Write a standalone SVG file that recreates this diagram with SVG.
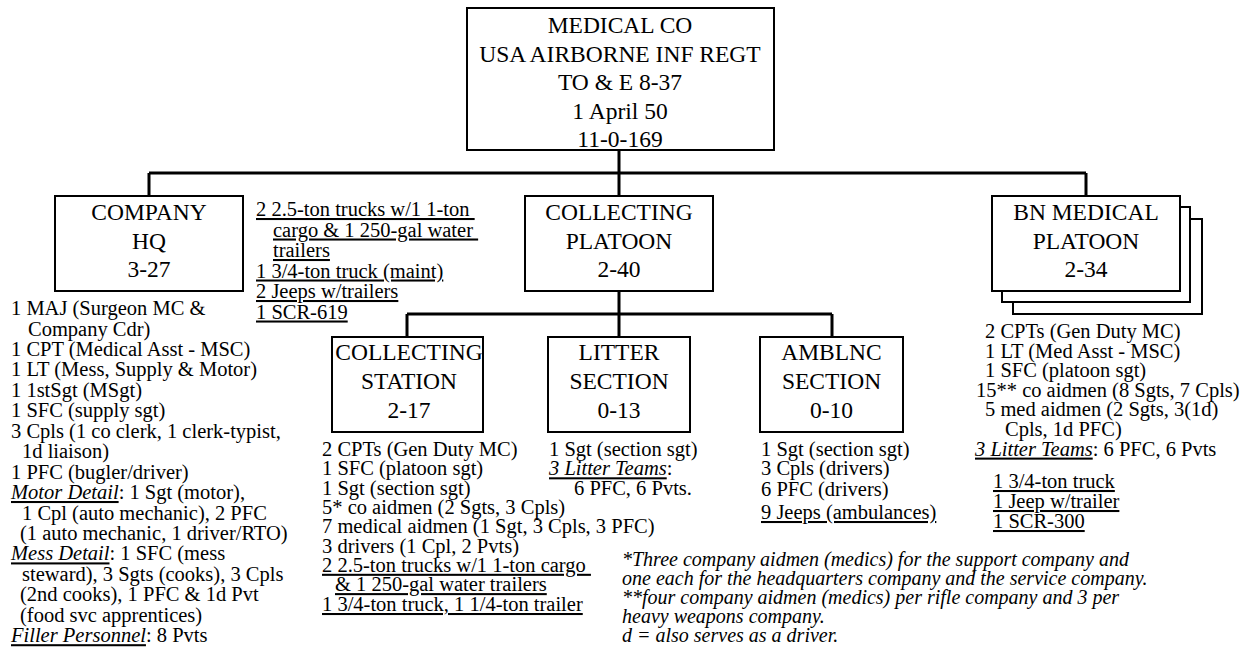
<svg xmlns="http://www.w3.org/2000/svg" width="1252" height="651" viewBox="0 0 1252 651">
<style>
.box{fill:#fff;stroke:#000;stroke-width:2}
.conn{fill:none;stroke:#000;stroke-width:3}
text{font-family:"Liberation Serif","Times New Roman",serif;fill:#000}
.bt{font-size:23.5px;text-anchor:middle}
.lt{font-size:20.5px}
.fn{font-size:20px;font-style:italic}
.u{text-decoration:underline}
.i{font-style:italic}
</style>
<rect width="1252" height="651" fill="#fff"/>
<g id="connectors">
<path class="conn" d="M619 150V196M149 173H1086M149 173V196M1086 173V196"/>
<path class="conn" d="M619 291V337M407 314H832M407 314V337M832 314V337"/>
</g>
<g id="medical-co">
<rect class="box" x="467" y="8" width="307" height="142"/>
<text class="bt"><tspan x="620" y="33">MEDICAL CO</tspan><tspan x="620" y="61.5">USA AIRBORNE INF REGT</tspan><tspan x="620" y="90">TO &amp; E 8-37</tspan><tspan x="620" y="118.5">1 April 50</tspan><tspan x="620" y="147">11-0-169</tspan></text>
</g>
<g id="company-hq">
<rect class="box" x="55" y="196" width="188" height="95"/>
<text class="bt"><tspan x="149" y="220">COMPANY</tspan><tspan x="149" y="248.5">HQ</tspan><tspan x="149" y="277">3-27</tspan></text>
<text class="lt">
<tspan x="11" y="315">1 MAJ (Surgeon MC &amp;</tspan>
<tspan x="28" y="335.5">Company Cdr)</tspan>
<tspan x="11" y="356">1 CPT (Medical Asst - MSC)</tspan>
<tspan x="11" y="376.4">1 LT (Mess, Supply &amp; Motor)</tspan>
<tspan x="11" y="396.8">1 1stSgt (MSgt)</tspan>
<tspan x="11" y="417.3">1 SFC (supply sgt)</tspan>
<tspan x="11" y="437.7">3 Cpls (1 co clerk, 1 clerk-typist,</tspan>
<tspan x="22" y="458.2">1d liaison)</tspan>
<tspan x="11" y="478.6">1 PFC (bugler/driver)</tspan>
<tspan x="11" y="499"><tspan class="u i">Motor Detail</tspan>: 1 Sgt (motor),</tspan>
<tspan x="22" y="519.5">1 Cpl (auto mechanic), 2 PFC</tspan>
<tspan x="20" y="540">(1 auto mechanic, 1 driver/RTO)</tspan>
<tspan x="11" y="560.4"><tspan class="u i">Mess Detail</tspan>: 1 SFC (mess</tspan>
<tspan x="22" y="580.8">steward), 3 Sgts (cooks), 3 Cpls</tspan>
<tspan x="20" y="601.3">(2nd cooks), 1 PFC &amp; 1d Pvt</tspan>
<tspan x="20" y="621.7">(food svc apprentices)</tspan>
<tspan x="11" y="642.2"><tspan class="u i">Filler Personnel</tspan>: 8 Pvts</tspan>
</text>
<text class="lt u" xml:space="preserve"><tspan x="256" y="216">2 2.5-ton trucks w/1 1-ton </tspan><tspan x="273" y="236.5">cargo &amp; 1 250-gal water </tspan><tspan x="273" y="257">trailers</tspan><tspan x="256" y="277.5">1 3/4-ton truck (maint)</tspan><tspan x="256" y="298">2 Jeeps w/trailers</tspan><tspan x="256" y="318.5">1 SCR-619</tspan></text>
</g>
<g id="collecting-platoon">
<rect class="box" x="525" y="196" width="188" height="95"/>
<text class="bt"><tspan x="619" y="220">COLLECTING</tspan><tspan x="619" y="248.5">PLATOON</tspan><tspan x="619" y="277">2-40</tspan></text>
</g>
<g id="bn-medical-platoon">
<rect class="box" x="1013" y="219" width="189" height="95"/>
<rect class="box" x="1002" y="207" width="188" height="95"/>
<rect class="box" x="992" y="196" width="188" height="95"/>
<text class="bt"><tspan x="1086" y="220">BN MEDICAL</tspan><tspan x="1086" y="248.5">PLATOON</tspan><tspan x="1086" y="277">2-34</tspan></text>
<text class="lt">
<tspan x="985" y="338">2 CPTs (Gen Duty MC)</tspan>
<tspan x="985" y="357.6">1 LT (Med Asst - MSC)</tspan>
<tspan x="985" y="377.2">1 SFC (platoon sgt)</tspan>
<tspan x="976" y="396.8">15** co aidmen (8 Sgts, 7 Cpls)</tspan>
<tspan x="985" y="416.4">5 med aidmen (2 Sgts, 3(1d)</tspan>
<tspan x="1005" y="436">Cpls, 1d PFC)</tspan>
<tspan x="975" y="455.6"><tspan class="u i">3 Litter Teams</tspan>: 6 PFC, 6 Pvts</tspan>
</text>
<text class="lt u"><tspan x="993" y="488">1 3/4-ton truck</tspan><tspan x="993" y="508">1 Jeep w/trailer</tspan><tspan x="993" y="528">1 SCR-300</tspan></text>
</g>
<g id="collecting-station">
<rect class="box" x="332" y="337" width="151" height="95"/>
<text class="bt"><tspan x="409" y="360">COLLECTING</tspan><tspan x="409" y="389">STATION</tspan><tspan x="409" y="418">2-17</tspan></text>
<text class="lt">
<tspan x="322" y="456">2 CPTs (Gen Duty MC)</tspan>
<tspan x="322" y="475.3">1 SFC (platoon sgt)</tspan>
<tspan x="322" y="494.6">1 Sgt (section sgt)</tspan>
<tspan x="322" y="513.9">5* co aidmen (2 Sgts, 3 Cpls)</tspan>
<tspan x="322" y="533.2">7 medical aidmen (1 Sgt, 3 Cpls, 3 PFC)</tspan>
<tspan x="322" y="552.5">3 drivers (1 Cpl, 2 Pvts)</tspan>
</text>
<text class="lt u" xml:space="preserve"><tspan x="322" y="571.8">2 2.5-ton trucks w/1 1-ton cargo </tspan><tspan x="335" y="591.1">&amp; 1 250-gal water trailers</tspan><tspan x="322" y="611">1 3/4-ton truck, 1 1/4-ton trailer</tspan></text>
</g>
<g id="litter-section">
<rect class="box" x="548" y="337" width="142" height="95"/>
<text class="bt"><tspan x="619" y="360">LITTER</tspan><tspan x="619" y="389">SECTION</tspan><tspan x="619" y="418">0-13</tspan></text>
<text class="lt"><tspan x="549" y="456">1 Sgt (section sgt)</tspan><tspan x="549" y="475.3"><tspan class="u i">3 Litter Teams</tspan>:</tspan><tspan x="574" y="494.6">6 PFC, 6 Pvts.</tspan></text>
</g>
<g id="amblnc-section">
<rect class="box" x="760" y="337" width="143" height="95"/>
<text class="bt"><tspan x="831.5" y="360">AMBLNC</tspan><tspan x="831.5" y="389">SECTION</tspan><tspan x="831.5" y="418">0-10</tspan></text>
<text class="lt"><tspan x="761" y="456">1 Sgt (section sgt)</tspan><tspan x="761" y="475.3">3 Cpls (drivers)</tspan><tspan x="761" y="495.5">6 PFC (drivers)</tspan></text>
<text class="lt u"><tspan x="761" y="519">9 Jeeps (ambulances)</tspan></text>
</g>
<g id="footnotes">
<text class="fn"><tspan x="622" y="566">*Three company aidmen (medics) for the support company and</tspan><tspan x="622" y="585">one each for the headquarters company and the service company.</tspan><tspan x="622" y="604">**four company aidmen (medics) per rifle company and 3 per</tspan><tspan x="622" y="623">heavy weapons company.</tspan><tspan x="622" y="642">d = also serves as a driver.</tspan></text>
</g>
</svg>
